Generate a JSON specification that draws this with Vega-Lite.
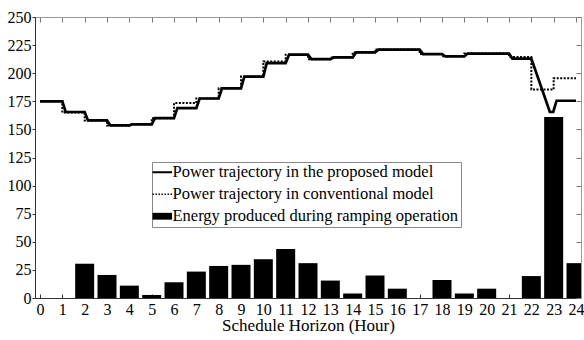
{
  "$schema": "https://vega.github.io/schema/vega-lite/v6.json",
  "width": 546,
  "height": 281,
  "autosize": {"type": "none"},
  "padding": {"left": 35, "top": 17, "right": 3, "bottom": 42},
  "background": "white",
  "config": {
    "view": {"stroke": null},
    "font": "Liberation Serif",
    "axis": {
      "grid": false,
      "labelFont": "Liberation Serif",
      "titleFont": "Liberation Serif",
      "labelColor": "black",
      "titleColor": "black",
      "labelFontSize": 16,
      "titleFontSize": 17,
      "titleFontWeight": "normal",
      "labelFlush": false
    },
    "legend": {
      "labelFont": "Liberation Serif"
    }
  },
  "datasets": {
    "energy": [
      {"hour": 1, "energy": 0},
      {"hour": 2, "energy": 30.5},
      {"hour": 3, "energy": 20.5},
      {"hour": 4, "energy": 11},
      {"hour": 5, "energy": 2.7},
      {"hour": 6, "energy": 14},
      {"hour": 7, "energy": 23.5},
      {"hour": 8, "energy": 28.5},
      {"hour": 9, "energy": 29.5},
      {"hour": 10, "energy": 34.5},
      {"hour": 11, "energy": 43.5},
      {"hour": 12, "energy": 31},
      {"hour": 13, "energy": 15.5},
      {"hour": 14, "energy": 4},
      {"hour": 15, "energy": 20},
      {"hour": 16, "energy": 8.3},
      {"hour": 17, "energy": 0},
      {"hour": 18, "energy": 16},
      {"hour": 19, "energy": 4},
      {"hour": 20, "energy": 8.3},
      {"hour": 21, "energy": 0},
      {"hour": 22, "energy": 19.5},
      {"hour": 23, "energy": 161},
      {"hour": 24, "energy": 31}
    ],
    "conventional": [
      {"hour": 0, "power": 175},
      {"hour": 1, "power": 165},
      {"hour": 2, "power": 158},
      {"hour": 3, "power": 153.5},
      {"hour": 4, "power": 154.5},
      {"hour": 5, "power": 160},
      {"hour": 6, "power": 173.5},
      {"hour": 7, "power": 177.5},
      {"hour": 8, "power": 186.5},
      {"hour": 9, "power": 197},
      {"hour": 10, "power": 210.5},
      {"hour": 11, "power": 216.5},
      {"hour": 12, "power": 212.5},
      {"hour": 13, "power": 214},
      {"hour": 14, "power": 218.5},
      {"hour": 15, "power": 221},
      {"hour": 16, "power": 221},
      {"hour": 17, "power": 217},
      {"hour": 18, "power": 215},
      {"hour": 19, "power": 217.5},
      {"hour": 20, "power": 217.5},
      {"hour": 21, "power": 214.5},
      {"hour": 22, "power": 185.5},
      {"hour": 23, "power": 195.5},
      {"hour": 24, "power": 195.5}
    ],
    "proposed": [
      {"hour": 0, "power": 175},
      {"hour": 1, "power": 175},
      {"hour": 1.15, "power": 165.5},
      {"hour": 2, "power": 165.5},
      {"hour": 2.15, "power": 158},
      {"hour": 3, "power": 158},
      {"hour": 3.15, "power": 153.5},
      {"hour": 4, "power": 153.5},
      {"hour": 4.15, "power": 154.5},
      {"hour": 5, "power": 154.5},
      {"hour": 5.15, "power": 160},
      {"hour": 6, "power": 160},
      {"hour": 6.15, "power": 169},
      {"hour": 7, "power": 169},
      {"hour": 7.15, "power": 177.5},
      {"hour": 8, "power": 177.5},
      {"hour": 8.15, "power": 186.5},
      {"hour": 9, "power": 186.5},
      {"hour": 9.15, "power": 197},
      {"hour": 10, "power": 197},
      {"hour": 10.15, "power": 209},
      {"hour": 11, "power": 209},
      {"hour": 11.15, "power": 216.5},
      {"hour": 12, "power": 216.5},
      {"hour": 12.15, "power": 212.5},
      {"hour": 13, "power": 212.5},
      {"hour": 13.15, "power": 214},
      {"hour": 14, "power": 214},
      {"hour": 14.15, "power": 218.5},
      {"hour": 15, "power": 218.5},
      {"hour": 15.15, "power": 221},
      {"hour": 17, "power": 221},
      {"hour": 17.15, "power": 217},
      {"hour": 18, "power": 217},
      {"hour": 18.15, "power": 215},
      {"hour": 19, "power": 215},
      {"hour": 19.15, "power": 217.5},
      {"hour": 21, "power": 217.5},
      {"hour": 21.15, "power": 213},
      {"hour": 22, "power": 213},
      {"hour": 22.83, "power": 165.5},
      {"hour": 22.98, "power": 165.5},
      {"hour": 23.13, "power": 175.5},
      {"hour": 24, "power": 175.5}
    ]
  },
  "layer": [
    {
      "data": {"name": "energy"},
      "mark": {"type": "bar", "width": 19, "color": "black", "clip": true},
      "encoding": {
        "x": {
          "field": "hour",
          "type": "quantitative",
          "scale": {"domain": [0, 24], "nice": false, "zero": false},
          "axis": {
            "orient": "bottom",
            "values": [0,1,2,3,4,5,6,7,8,9,10,11,12,13,14,15,16,17,18,19,20,21,22,23,24],
            "tickSize": -4,
            "labelPadding": 7,
            "labelDx": -2,
            "labelOverlap": false,
            "title": "Schedule Horizon (Hour)",
            "titlePadding": 0,
            "domainColor": "#333",
            "tickColor": "#333"
          }
        },
        "y": {
          "field": "energy",
          "type": "quantitative",
          "scale": {"domain": [0, 250], "nice": false},
          "axis": {
            "orient": "left",
            "values": [0,25,50,75,100,125,150,175,200,225,250],
            "tickSize": 3,
            "labelPadding": 1,
            "title": null,
            "domainColor": "#333",
            "tickColor": "#333"
          }
        },
        "color": {
          "datum": "Energy produced during ramping operation",
          "scale": {
            "domain": [
              "Power trajectory in the proposed model",
              "Power trajectory in conventional model",
              "Energy produced during ramping operation"
            ],
            "range": ["black", "black", "black"]
          },
          "legend": {
            "orient": "none",
            "legendX": 117,
            "legendY": 145,
            "title": null,
            "labelFont": "Liberation Serif",
            "labelFontSize": 16.5,
            "labelColor": "black",
            "labelLimit": 400,
            "labelOffset": 2,
            "symbolSize": 380,
            "padding": 2,
            "rowPadding": 5,
            "strokeColor": "#888",
            "fillColor": "white",
            "encode": {
              "symbols": {
                "update": {
                  "shape": {"signal": "datum.value === 'Energy produced during ramping operation' ? 'M-1,-0.35H1V0.35H-1Z' : 'M-1,0H1'"},
                  "fill": {"signal": "datum.value === 'Energy produced during ramping operation' ? 'black' : 'transparent'"},
                  "stroke": {"value": "black"},
                  "strokeWidth": {"signal": "datum.value === 'Energy produced during ramping operation' ? 0 : (datum.value === 'Power trajectory in conventional model' ? 1.5 : 2)"},
                  "strokeDash": {"signal": "datum.value === 'Power trajectory in conventional model' ? [1.5, 1.5] : []"},
                  "opacity": {"value": 1}
                }
              }
            }
          }
        }
      }
    },
    {
      "data": {"name": "conventional"},
      "mark": {"type": "line", "interpolate": "step-after", "strokeWidth": 2, "strokeDash": [2, 1.5]},
      "encoding": {
        "x": {"field": "hour", "type": "quantitative", "axis": null},
        "y": {"field": "power", "type": "quantitative", "axis": null},
        "color": {"datum": "Power trajectory in conventional model"}
      }
    },
    {
      "data": {"name": "proposed"},
      "mark": {"type": "line", "strokeWidth": 2.7},
      "encoding": {
        "x": {
          "field": "hour",
          "type": "quantitative",
          "axis": {
            "orient": "top",
            "values": [0,1,2,3,4,5,6,7,8,9,10,11,12,13,14,15,16,17,18,19,20,21,22,23,24],
            "labels": false,
            "tickSize": -5,
            "title": null,
            "domainColor": "#999",
            "tickColor": "#777"
          }
        },
        "y": {
          "field": "power",
          "type": "quantitative",
          "axis": {
            "orient": "right",
            "values": [0,25,50,75,100,125,150,175,200,225,250],
            "labels": false,
            "tickSize": -5,
            "title": null,
            "domainColor": "#999",
            "tickColor": "#777"
          }
        },
        "color": {"datum": "Power trajectory in the proposed model"}
      }
    }
  ],
  "resolve": {"axis": {"x": "independent", "y": "independent"}}
}
